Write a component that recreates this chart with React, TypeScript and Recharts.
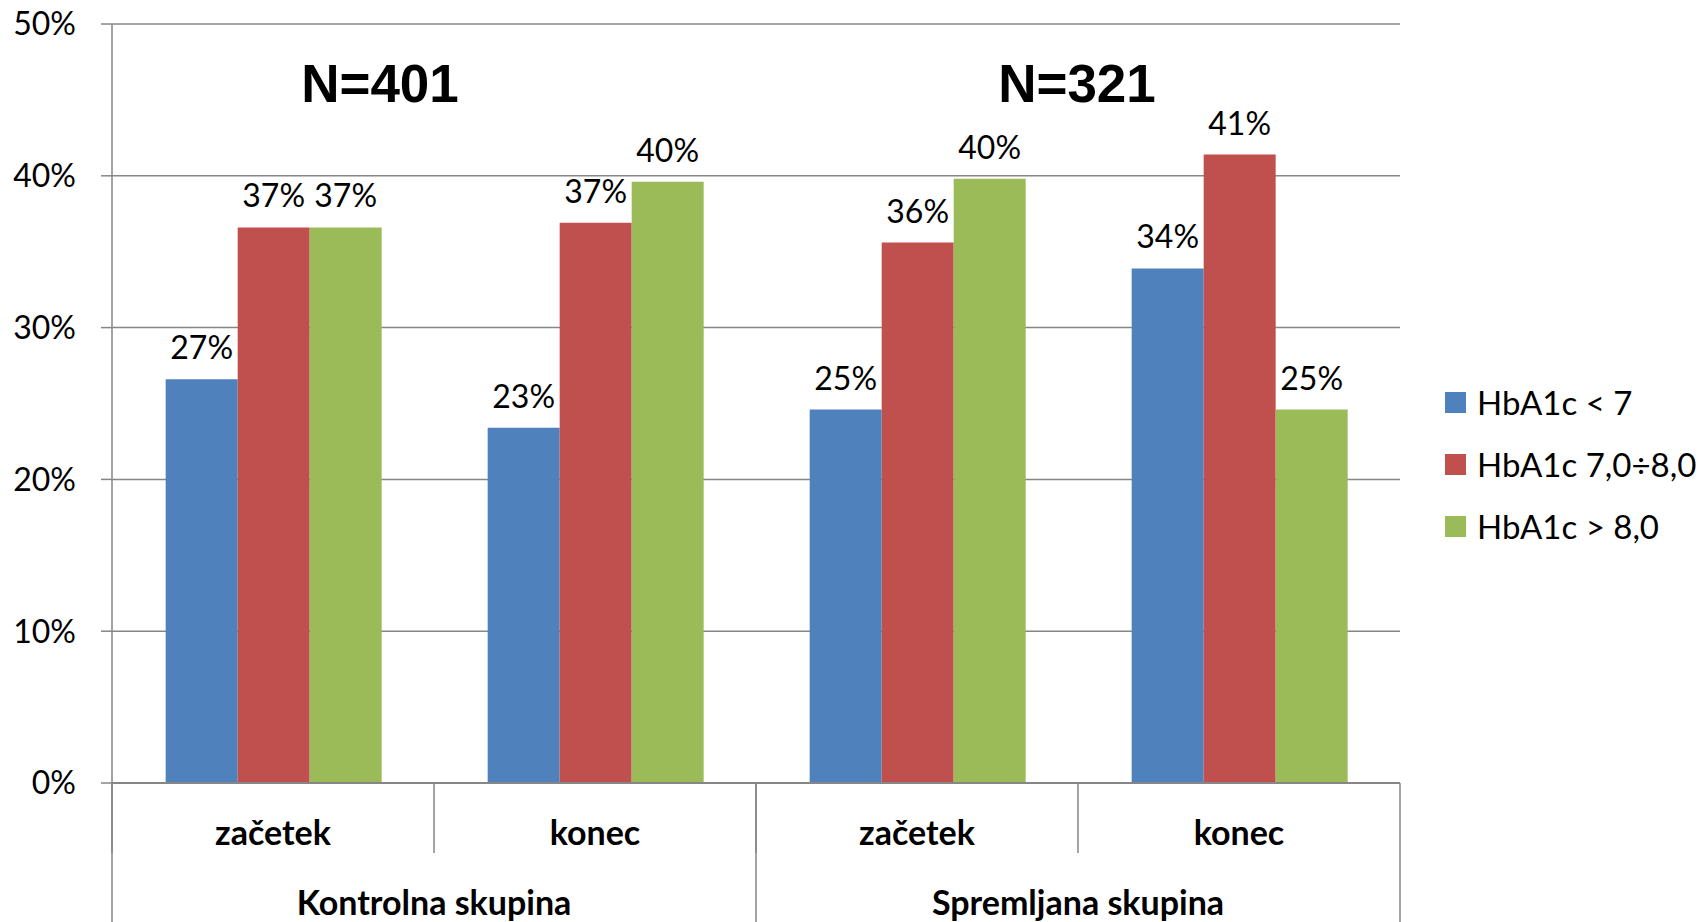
import React from "react";
import {
  BarChart,
  Bar,
  XAxis,
  YAxis,
  CartesianGrid,
  Legend,
  LabelList,
  Customized,
} from "recharts";

const categories = ["začetek", "konec", "začetek", "konec"];
const groups = ["Kontrolna skupina", "Kontrolna skupina", "Spremljana skupina", "Spremljana skupina"];
const below7 = [26.6, 23.4, 24.6, 33.9];
const between7and8 = [36.6, 36.9, 35.6, 41.4];
const above8 = [36.6, 39.6, 39.8, 24.6];
const yTicks = [0, 10, 20, 30, 40, 50];
const groupNotes = ["N=401", "N=321"];

const seriesNames = ["HbA1c < 7", "HbA1c 7,0÷8,0", "HbA1c > 8,0"];
const colors = ["#4F81BD", "#C0504D", "#9BBB59"];

const data = categories.map((c, i) => ({
  cat: c,
  group: groups[i],
  a: below7[i],
  b: between7and8[i],
  c: above8[i],
}));

const W = 1700;
const H = 922;
const M = { top: 24, right: 300, left: 0, bottom: 0 };
const Y_W = 112;
const X_H = 139;
const PLOT_W = W - M.right - Y_W;
const BAND = PLOT_W / categories.length;
const GRAY = "#868686";
const FONT = "Lato, 'Open Sans', sans-serif";

// two-level category axis: sub label + group label with separators
const TwoLevelTick = (props: any) => {
  const { x, y, payload, index } = props;
  const half = BAND / 2;
  const isFirstOfGroup = index === 0 || groups[index] !== groups[index - 1];
  const isLast = index === categories.length - 1;
  return (
    <g>
      <line x1={x - half} x2={x - half} y1={y} y2={y + 70} stroke={GRAY} strokeWidth={1.5} />
      {isLast && (
        <line x1={x + half} x2={x + half} y1={y} y2={y + X_H} stroke={GRAY} strokeWidth={1.5} />
      )}
      {isFirstOfGroup && (
        <line x1={x - half} x2={x - half} y1={y} y2={y + X_H} stroke={GRAY} strokeWidth={1.5} />
      )}
      <text
        x={x}
        y={y + 48}
        textAnchor="middle"
        dominantBaseline="central"
        fontFamily={FONT}
        fontWeight={700}
        fontSize={34}
        fill="#000"
      >
        {payload.value}
      </text>
      {isFirstOfGroup && (
        <text
          x={x + half}
          y={y + 118}
          textAnchor="middle"
          dominantBaseline="central"
          fontFamily={FONT}
          fontWeight={700}
          fontSize={34}
          fill="#000"
        >
          {groups[index]}
        </text>
      )}
    </g>
  );
};

const NLabels = () => (
  <g>
    <text x={380} y={102} textAnchor="middle" fontFamily="'Liberation Sans', Arial, sans-serif" fontWeight={700} fontSize={53} fill="#000">
      {groupNotes[0]}
    </text>
    <text x={1077} y={102} textAnchor="middle" fontFamily="'Liberation Sans', Arial, sans-serif" fontWeight={700} fontSize={53} fill="#000">
      {groupNotes[1]}
    </text>
  </g>
);

const LegendContent = () => (
  <div style={{ fontFamily: FONT, fontSize: 33, color: "#000" }}>
    {seriesNames.map((n, i) => (
      <div key={n} style={{ display: "flex", alignItems: "center", height: 62 }}>
        <span style={{ width: 21, height: 21, background: colors[i], display: "inline-block", marginRight: 11 }} />
        <span>{n}</span>
      </div>
    ))}
  </div>
);

const fmt = (v: any) => `${Math.round(Number(v))}%`;

export default function App() {
  return (
    <div style={{ position: "absolute", left: 0, top: 0, width: W, height: H, background: "#fff" }}>
      <BarChart
        width={W}
        height={H}
        data={data}
        margin={M}
        barCategoryGap="16.67%"
        barGap={0}
      >
        <CartesianGrid vertical={false} stroke={GRAY} strokeWidth={1.5} />
        <XAxis
          dataKey="cat"
          height={X_H}
          tickSize={0}
          tickMargin={0}
          tickLine={false}
          axisLine={{ stroke: GRAY, strokeWidth: 2 }}
          tick={<TwoLevelTick />}
          interval={0}
        />
        <YAxis
          width={Y_W}
          domain={[0, 50]}
          ticks={yTicks}
          tickFormatter={(v) => `${v}%`}
          tickSize={11}
          tickMargin={25}
          tickLine={{ stroke: GRAY, strokeWidth: 1.5 }}
          axisLine={{ stroke: GRAY, strokeWidth: 1.5 }}
          tick={{ fill: "#000", fontSize: 32, fontFamily: FONT }}
          interval={0}
        />
        <Legend
          layout="vertical"
          align="center"
          verticalAlign="middle"
          content={<LegendContent />}
          wrapperStyle={{ position: "absolute", left: 1445, top: 371, width: 255 }}
        />
        {["a", "b", "c"].map((k, i) => (
          <Bar key={k} dataKey={k} name={seriesNames[i]} fill={colors[i]} isAnimationActive={false}>
            <LabelList dataKey={k} position="top" offset={20} formatter={fmt} fill="#000" fontSize={32} fontFamily={FONT} />
          </Bar>
        ))}
        <Customized component={NLabels} />
      </BarChart>
    </div>
  );
}
